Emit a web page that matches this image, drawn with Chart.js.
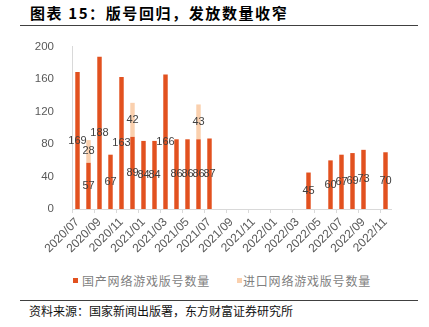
<!DOCTYPE html>
<html>
<head>
<meta charset="utf-8">
<script src="https://cdn.jsdelivr.net/npm/chart.js@4.4.0/dist/chart.umd.min.js"></script>
<style>
  html, body { margin: 0; padding: 0; background: #fff; }
  #page { position: relative; width: 429px; height: 327px; overflow: hidden; font-family: "Noto Sans CJK SC", sans-serif; }
  #title { position: absolute; left: 30px; top: 3px; font-size: 15px; font-weight: bold; letter-spacing: 1.6px; color: #000; line-height: 20px; white-space: nowrap; }
  .rule { position: absolute; left: 20px; width: 398px; height: 1px; background: #404040; }
  #chartBox { position: absolute; left: 0; top: 30px; width: 429px; height: 239px; }
  #legend { position: absolute; top: 272px; left: 0; width: 429px; height: 18px; font-size: 12px; letter-spacing: 0.8px; color: #7f7f7f; line-height: 18px; white-space: nowrap; }
  #legend .item { position: absolute; top: 0; }
  #legend .box { position: absolute; top: 6px; width: 5px; height: 5px; }
  #legend .txt { position: absolute; top: 0; }
  #source { position: absolute; left: 29px; top: 302px; font-size: 12px; color: #111; line-height: 17px; white-space: nowrap; }
</style>
</head>
<body>
<div id="page">
  <div id="title">图表 15：版号回归，发放数量收窄</div>
  <div class="rule" style="top:25px"></div>
  <div id="chartBox"><canvas id="canvas"></canvas></div>
  <div id="legend"></div>
  <div class="rule" style="top:300px"></div>
  <div id="source">资料来源：国家新闻出版署，东方财富证券研究所</div>
</div>

<script>
// monthly game licence approvals, 2020/07 - 2022/11 (null = no batch that month)
var CATEGORIES = ["2020/07", "2020/08", "2020/09", "2020/10", "2020/11", "2020/12",
                  "2021/01", "2021/02", "2021/03", "2021/04", "2021/05", "2021/06",
                  "2021/07", "2021/08", "2021/09", "2021/10", "2021/11", "2021/12",
                  "2022/01", "2022/02", "2022/03", "2022/04", "2022/05", "2022/06",
                  "2022/07", "2022/08", "2022/09", "2022/10", "2022/11"];
var DOMESTIC = [169, 57, 188, 67, 163, 89,
                84, 84, 166, 86, 86, 86,
                87, null, null, null, null, null,
                null, null, null, 45, null, 60,
                67, 69, 73, null, 70];
var IMPORTED = [null, 28, null, null, null, 42,
                null, null, null, null, null, 43,
                null, null, null, null, null, null,
                null, null, null, null, null, null,
                null, null, null, null, null];
var SERIES_NAMES = ["国产网络游戏版号数量", "进口网络游戏版号数量"];
var Y_MIN = 0, Y_MAX = 200, Y_STEP = 20;

var COLOR_DOMESTIC = "#E2511F";
var COLOR_IMPORTED = "#FAD0AE";

// writes each bar's value in the middle of its segment
var barValueLabels = {
  id: "barValueLabels",
  afterDatasetsDraw: function(chart) {
    var ctx = chart.ctx;
    ctx.save();
    ctx.font = '11px "Liberation Sans", Arial, sans-serif';
    ctx.fillStyle = "#404040";
    ctx.textAlign = "center";
    ctx.textBaseline = "middle";
    chart.data.datasets.forEach(function(ds, di) {
      var meta = chart.getDatasetMeta(di);
      meta.data.forEach(function(bar, i) {
        var v = ds.data[i];
        if (v === null || v === undefined) return;
        var p = bar.getProps(["x", "y", "base"], true);
        ctx.fillText(String(v), p.x, (p.y + p.base) / 2);
      });
    });
    ctx.restore();
  }
};

var ctx = document.getElementById("canvas").getContext("2d");
window.myBar = new Chart(ctx, {
  type: "bar",
  data: {
    labels: CATEGORIES,
    datasets: [{
      label: SERIES_NAMES[0],
      data: DOMESTIC,
      backgroundColor: COLOR_DOMESTIC,
      borderWidth: 0,
      barPercentage: 0.45,
      categoryPercentage: 0.9
    }, {
      label: SERIES_NAMES[1],
      data: IMPORTED,
      backgroundColor: COLOR_IMPORTED,
      borderWidth: 0,
      barPercentage: 0.45,
      categoryPercentage: 0.9
    }]
  },
  options: {
    responsive: true,
    maintainAspectRatio: false,
    animation: false,
    layout: { padding: { left: 0, right: 38, top: 15, bottom: 0 } },
    plugins: {
      legend: { display: false },
      tooltip: { enabled: false }
    },
    scales: {
      x: {
        stacked: true,
        grid: {
          display: true,
          drawOnChartArea: false,
          drawTicks: true,
          tickLength: 4,
          color: function(c) { return c.index % 2 === 0 ? "#d9d9d9" : "rgba(0,0,0,0)"; }
        },
        border: { display: true, color: "#d9d9d9" },
        ticks: {
          autoSkip: false,
          maxRotation: 45,
          minRotation: 45,
          padding: 2,
          color: "#595959",
          font: { family: '"Liberation Sans", Arial, sans-serif', size: 12 },
          callback: function(val, i) { return i % 2 === 0 ? CATEGORIES[i] : ""; }
        },
        afterFit: function(scale) { scale.height = 60; }
      },
      y: {
        stacked: true,
        min: Y_MIN,
        max: Y_MAX,
        grid: { display: false },
        border: { display: true, color: "#d9d9d9" },
        ticks: {
          stepSize: Y_STEP,
          padding: 10,
          color: "#595959",
          font: { family: '"Liberation Sans", Arial, sans-serif', size: 11.5 }
        },
        afterFit: function(scale) { scale.width = 72; }
      }
    }
  },
  plugins: [barValueLabels]
});

// legend built from the same series names and colours
var legendSpots = [{ box: 73, txt: 82 }, { box: 237, txt: 243 }];
var legendColors = [COLOR_DOMESTIC, COLOR_IMPORTED];
var legendEl = document.getElementById("legend");
SERIES_NAMES.forEach(function(name, i) {
  var box = document.createElement("span");
  box.className = "box";
  box.style.left = legendSpots[i].box + "px";
  box.style.background = legendColors[i];
  var txt = document.createElement("span");
  txt.className = "txt";
  txt.style.left = legendSpots[i].txt + "px";
  txt.textContent = name;
  legendEl.appendChild(box);
  legendEl.appendChild(txt);
});
</script>
</body>
</html>
